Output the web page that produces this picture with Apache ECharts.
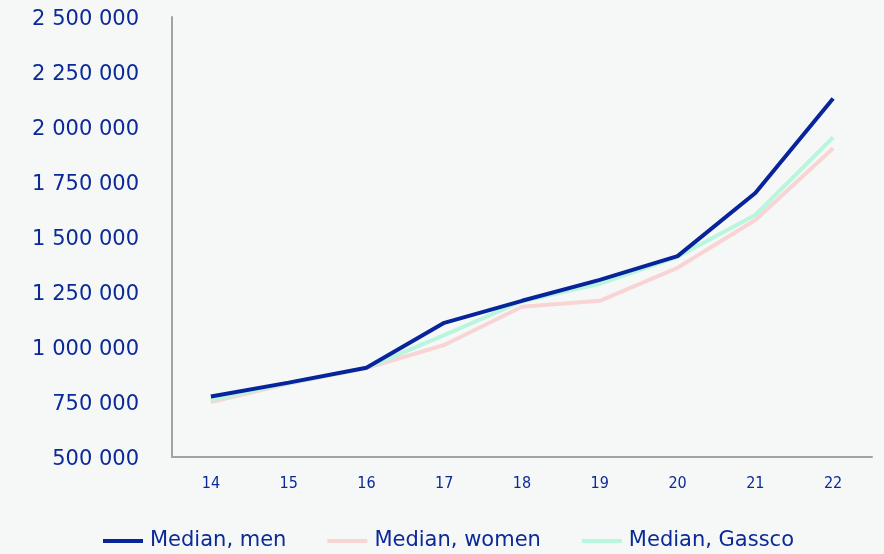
<!DOCTYPE html>
<html>
<head>
<meta charset="utf-8">
<script src="https://cdn.jsdelivr.net/npm/echarts@6/dist/echarts.min.js"></script>
<style>
  html, body { margin: 0; padding: 0; background: #f6f8f8; }
  #chart { width: 884px; height: 554px; }
</style>
</head>
<body>
<div id="chart"></div>
<script>
// Median salary by grade, three series
const grades = ['14', '15', '16', '17', '18', '19', '20', '21', '22'];
const medianMen    = [775000, 838000, 906000, 1110000, 1210000, 1305000, 1413000, 1700000, 2130000];
const medianWomen  = [750000, 834000, 904000, 1009000, 1183000, 1210000, 1360000, 1577000, 1903000];
const medianGassco = [760000, 836000, 905000, 1054000, 1208000, 1287000, 1410000, 1600000, 1953000];
const seriesNames  = ['Median, men', 'Median, women', 'Median, Gassco'];

const textColor = '#0b2a98';
const fontFamily = '"DejaVu Sans", "Noto Sans", sans-serif';

function spaced(v) {
  return '{v|' + String(v).replace(/\B(?=(\d{3})+(?!\d))/g, ' ') + '}';
}

const chart = echarts.init(document.getElementById('chart'), null, { renderer: 'canvas' });
chart.setOption({
  backgroundColor: '#f6f8f8',
  animation: false,
  grid: { left: 172, right: 12, top: 17, bottom: 97, containLabel: false },
  legend: {
    top: 530,
    left: 103,
    padding: 0,
    itemWidth: 40,
    itemHeight: 4,
    itemGap: 41,
    icon: 'rect',
    textStyle: {
      color: textColor, fontSize: 21, fontFamily: fontFamily, lineHeight: 22,
      padding: [0, 0, 0, 2]
    },
    data: seriesNames
  },
  xAxis: {
    type: 'category',
    data: grades,
    boundaryGap: true,
    axisLine: { lineStyle: { color: '#a3a3a3', width: 2 } },
    axisTick: { show: false },
    axisLabel: {
      color: textColor, fontSize: 16, margin: 19,
      fontFamily: '"DejaVu Sans Condensed", "DejaVu Sans", sans-serif'
    }
  },
  yAxis: {
    type: 'value',
    min: 500000,
    max: 2500000,
    interval: 250000,
    splitLine: { show: false },
    axisLine: { show: true, lineStyle: { color: '#a3a3a3', width: 2 } },
    axisTick: { show: false },
    axisLabel: {
      margin: 33,
      formatter: spaced,
      rich: {
        v: {
          color: textColor, fontSize: 21, fontFamily: fontFamily,
          lineHeight: 24, padding: [6, 0, 0, 0]
        }
      }
    }
  },
  series: [
    { name: seriesNames[0], type: 'line', data: medianMen, symbol: 'none', z: 3,
      lineStyle: { color: '#08249b', width: 4 }, itemStyle: { color: '#08249b' } },
    { name: seriesNames[1], type: 'line', data: medianWomen, symbol: 'none', z: 1,
      lineStyle: { color: '#f9d4d5', width: 4 }, itemStyle: { color: '#f9d4d5' } },
    { name: seriesNames[2], type: 'line', data: medianGassco, symbol: 'none', z: 2,
      lineStyle: { color: '#b9f6de', width: 4 }, itemStyle: { color: '#b9f6de' } }
  ]
});
</script>
</body>
</html>
